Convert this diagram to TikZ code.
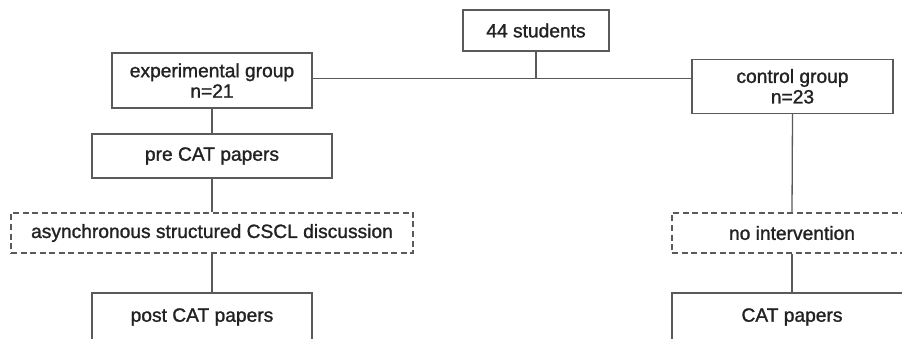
\documentclass[tikz,border=0pt]{standalone}
\usepackage{fontspec}
\setmainfont{Liberation Sans}
\newfontfamily\boxfont{Liberation Sans}[FakeBold=1.3]
\usepackage{tikz}
\usetikzlibrary{positioning,calc}
\definecolor{linegray}{HTML}{5A5A5A}
\definecolor{textgray}{HTML}{222222}

\begin{document}
\begin{tikzpicture}[
    x=1pt, y=-1pt,
    box/.style={draw=linegray, line width=1.3pt, inner sep=0pt, align=center,
                text=textgray, font=\boxfont\fontsize{19.2}{20.5}\selectfont},
    dashbox/.style={box, dash pattern=on 6pt off 3.5pt},
    link/.style={draw=linegray, line width=1.3pt}
]
\clip (0,0) rectangle (902,339);

% --- nodes ---
\node[box, minimum width=146, minimum height=41] (total) at (536,30.5) {44 students};
\coordinate (split) at (536,78.7);

\node[box, minimum width=200, minimum height=55] (exp) at (212,80.5) {experimental group\\n=21};
\node[box, minimum width=201, minimum height=54] (ctrl) at (792.5,86.3) {control group\\n=23};

\node[box, minimum width=240, minimum height=44] (pre) at (212,156) {pre CAT papers};
\node[dashbox, minimum width=402, minimum height=40] (disc) at (212,233) {asynchronous structured CSCL discussion};
\node[box, minimum width=220, minimum height=48] (post) at (202,317) {post CAT papers};

\node[dashbox, minimum width=240, minimum height=40] (nointer) at (792,233) {no intervention};
\node[box, minimum width=240, minimum height=48] (cat) at (792,317) {CAT papers};

% --- lines ---
\draw[link] (total.south) -- (split);
\draw[link] (split) -- (exp.east |- split);
\draw[link] (split) -- (ctrl.west |- split);

\draw[link] (exp.south) -- (pre.north);
\draw[link] (pre.south) -- (disc.north);
\draw[link] (disc.south) -- (disc.south |- post.north);

\draw[link] (ctrl.south) -- (nointer.north);
\draw[link] (nointer.south) -- (cat.north);

\end{tikzpicture}
\end{document}
